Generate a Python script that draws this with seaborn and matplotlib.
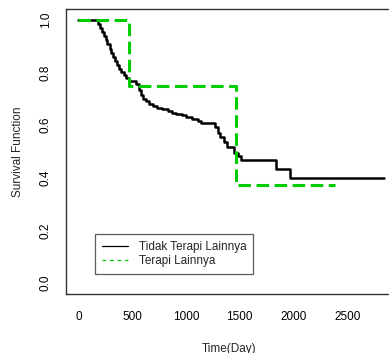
import numpy as np
import pandas as pd
import matplotlib
matplotlib.use("Agg")
import matplotlib.pyplot as plt
import seaborn as sns
from matplotlib.lines import Line2D

# ---- data ----
no_therapy_time = [0, 186, 205, 220, 240, 255, 270, 290, 305, 320, 340, 360, 380, 400,
                   425, 445, 466, 539, 560, 580, 600, 625, 655, 690, 730, 780, 830, 870,
                   910, 960, 1000, 1060, 1110, 1140, 1270, 1300, 1320, 1350, 1385, 1450,
                   1480, 1507, 1835, 1965, 2840]
no_therapy_surv = [1.0, 0.985, 0.97, 0.955, 0.94, 0.925, 0.91, 0.89, 0.875, 0.86, 0.845,
                   0.83, 0.815, 0.80, 0.79, 0.78, 0.768, 0.755, 0.735, 0.715, 0.70, 0.69,
                   0.68, 0.672, 0.665, 0.66, 0.655, 0.648, 0.643, 0.638, 0.632, 0.625,
                   0.615, 0.607, 0.592, 0.572, 0.554, 0.535, 0.516, 0.496, 0.482, 0.467,
                   0.432, 0.40, 0.40]
therapy_time = [0, 473, 1468, 2383]
therapy_surv = [1.0, 0.75, 0.372, 0.372]

labels = ["Tidak Terapi Lainnya", "Terapi Lainnya"]
x_ticks = [0, 500, 1000, 1500, 2000, 2500]
y_ticks = [0.0, 0.2, 0.4, 0.6, 0.8, 1.0]

sns.set_style("white")
plt.rcParams["font.family"] = ["Liberation Sans", "DejaVu Sans"]

W, H = 389, 353
fig = plt.figure(figsize=(W / 100, H / 100), dpi=100)
ax = fig.add_axes([66 / W, 1 - 294 / H, 326 / W, 285 / H])

GREEN = "#00CD00"
df1 = pd.DataFrame({"t": no_therapy_time, "s": no_therapy_surv})
df2 = pd.DataFrame({"t": therapy_time, "s": therapy_surv})

sns.lineplot(data=df1, x="t", y="s", ax=ax, drawstyle="steps-post", color="black",
             linewidth=1.8, estimator=None, sort=False, zorder=2)
lw2 = 2.2
sns.lineplot(data=df2, x="t", y="s", ax=ax, drawstyle="steps-post", color=GREEN,
             linewidth=lw2, estimator=None, sort=False, zorder=3,
             linestyle=(0, (9.0 / lw2, 4.0 / lw2)))

ax.set_xlim(-115, 2915)
ax.set_ylim(-0.041, 1.041)
ax.set_xticks(x_ticks)
ax.set_xticklabels([str(v) for v in x_ticks])
ax.set_yticks(y_ticks)
ax.set_yticklabels([f"{v:.1f}" for v in y_ticks], rotation=90, va="center")

for s in ax.spines.values():
    s.set_color("#333333")
    s.set_linewidth(1.0)
ax.tick_params(axis="both", direction="out", length=4.3, width=0.9, color="#444444",
               labelsize=8.5, labelcolor="black")
ax.tick_params(axis="x", pad=8)
ax.tick_params(axis="y", pad=6)
ax.set_xlabel("Time(Day)", fontsize=8.5, labelpad=14)
ax.set_ylabel("Survival Function", fontsize=8.5, labelpad=11)
ax.grid(False)

handles = [Line2D([], [], color="black", linewidth=0.9),
           Line2D([], [], color=GREEN, linewidth=0.9, linestyle=(0, (3, 3)))]
leg = ax.legend(handles, labels, loc="lower left",
                bbox_to_anchor=((95 - 66) / 326, (294 - 274) / 285),
                frameon=True, fancybox=False, fontsize=8.5, handlelength=2.2,
                handletextpad=0.9, borderpad=0.6, labelspacing=0.15, borderaxespad=0)
leg.get_frame().set_edgecolor("#333333")
leg.get_frame().set_linewidth(0.9)

fig.savefig("out.png", dpi=100)
